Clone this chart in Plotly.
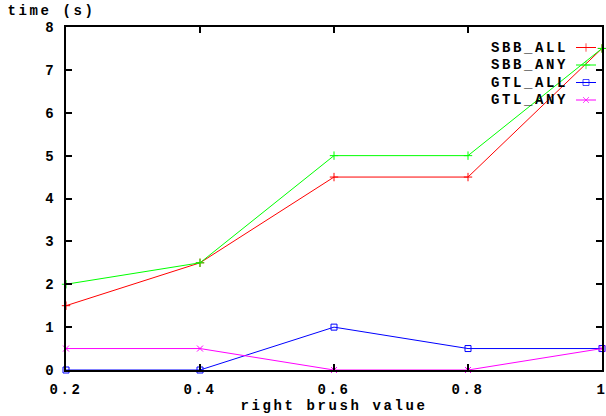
import plotly.graph_objects as go

x_vals = [0.2, 0.4, 0.6, 0.8, 1.0]
sbb_all = [1.5, 2.5, 4.5, 4.5, 7.5]
sbb_any = [2.0, 2.5, 5.0, 5.0, 7.5]
gtl_all = [0.0, 0.0, 1.0, 0.5, 0.5]
gtl_any = [0.5, 0.5, 0.0, 0.0, 0.5]
series_names = ["SBB_ALL", "SBB_ANY", "GTL_ALL", "GTL_ANY"]
series_colors = ["#ff0000", "#00ff00", "#0000ff", "#ff00ff"]
series_symbols = ["cross-thin-open", "cross-thin-open", "square-open", "x-thin-open"]
x_ticks = [0.2, 0.4, 0.6, 0.8, 1.0]
x_ticktext = ["0.2", "0.4", "0.6", "0.8", "1"]
y_ticks = [0, 1, 2, 3, 4, 5, 6, 7, 8]

FONT = "Liberation Mono, Courier New, monospace"
FSIZE = 14
W, H = 606, 416
L, R, T, B = 66, 4, 27, 46

fig = go.Figure()
for name, ys, col, sym in zip(series_names, [sbb_all, sbb_any, gtl_all, gtl_any],
                              series_colors, series_symbols):
    fig.add_trace(go.Scatter(
        x=x_vals, y=ys, mode="lines+markers", name=name,
        line=dict(color=col, width=1),
        marker=dict(symbol=sym, size=6, color=col, line=dict(color=col, width=1)),
        showlegend=False, cliponaxis=False))

# gnuplot-style key: text on the left, sample on the right (pixel overlay axes)
key_rows = [47.5, 65, 82.5, 100]
for name, col, sym, ry in zip(series_names, series_colors, series_symbols, key_rows):
    fig.add_trace(go.Scatter(
        x=[576, 586, 596], y=[ry, ry, ry], xaxis="x2", yaxis="y2",
        mode="lines+markers",
        line=dict(color=col, width=1),
        marker=dict(symbol=sym, size=[0, 6, 0], color=col, line=dict(color=col, width=1)),
        showlegend=False, hoverinfo="skip"))
    fig.add_annotation(x=529, y=ry, xref="x2", yref="y2", text=name,
                       showarrow=False, xanchor="center", yanchor="middle",
                       font=dict(family=FONT, size=FSIZE, color="black", weight="bold"))

axis_common = dict(showgrid=False, zeroline=False, showline=True, linecolor="black",
                   linewidth=2, mirror="ticks", ticks="inside", ticklen=6,
                   tickcolor="black", tickwidth=2, automargin=False,
                   ticklabeloverflow="allow",
                   tickfont=dict(family=FONT, size=FSIZE, color="black", weight="bold"))

fig.update_layout(
    width=W, height=H,
    margin=dict(l=L, r=R, t=T, b=B, pad=0),
    paper_bgcolor="white", plot_bgcolor="white",
    xaxis=dict(range=[0.2, 1.0], tickvals=x_ticks, ticktext=x_ticktext,
               ticklabelstandoff=5,
               title=dict(text="right brush value", standoff=2,
                          font=dict(family=FONT, size=FSIZE, color="black", weight="bold")),
               **axis_common),
    yaxis=dict(range=[0, 8], tickvals=y_ticks, ticklabelstandoff=5, **axis_common),
    xaxis2=dict(range=[L, W - R], overlaying="x", visible=False, fixedrange=True),
    yaxis2=dict(range=[H - B, T], overlaying="y", visible=False, fixedrange=True),
    showlegend=False,
)

fig.add_annotation(x=(51 - L) / (W - L - R), y=1 + (T - 11) / (H - T - B),
                   xref="paper", yref="paper", text="time (s)", showarrow=False,
                   xanchor="center", yanchor="middle",
                   font=dict(family=FONT, size=FSIZE, color="black", weight="bold"))

# widen the glyph pitch like gnuplot's bitmap font
post = """
var st = document.createElement('style');
st.innerHTML = 'svg text { letter-spacing: 2.6px; }';
document.head.appendChild(st);
"""

fig.write_html("out.html", post_script=post)
